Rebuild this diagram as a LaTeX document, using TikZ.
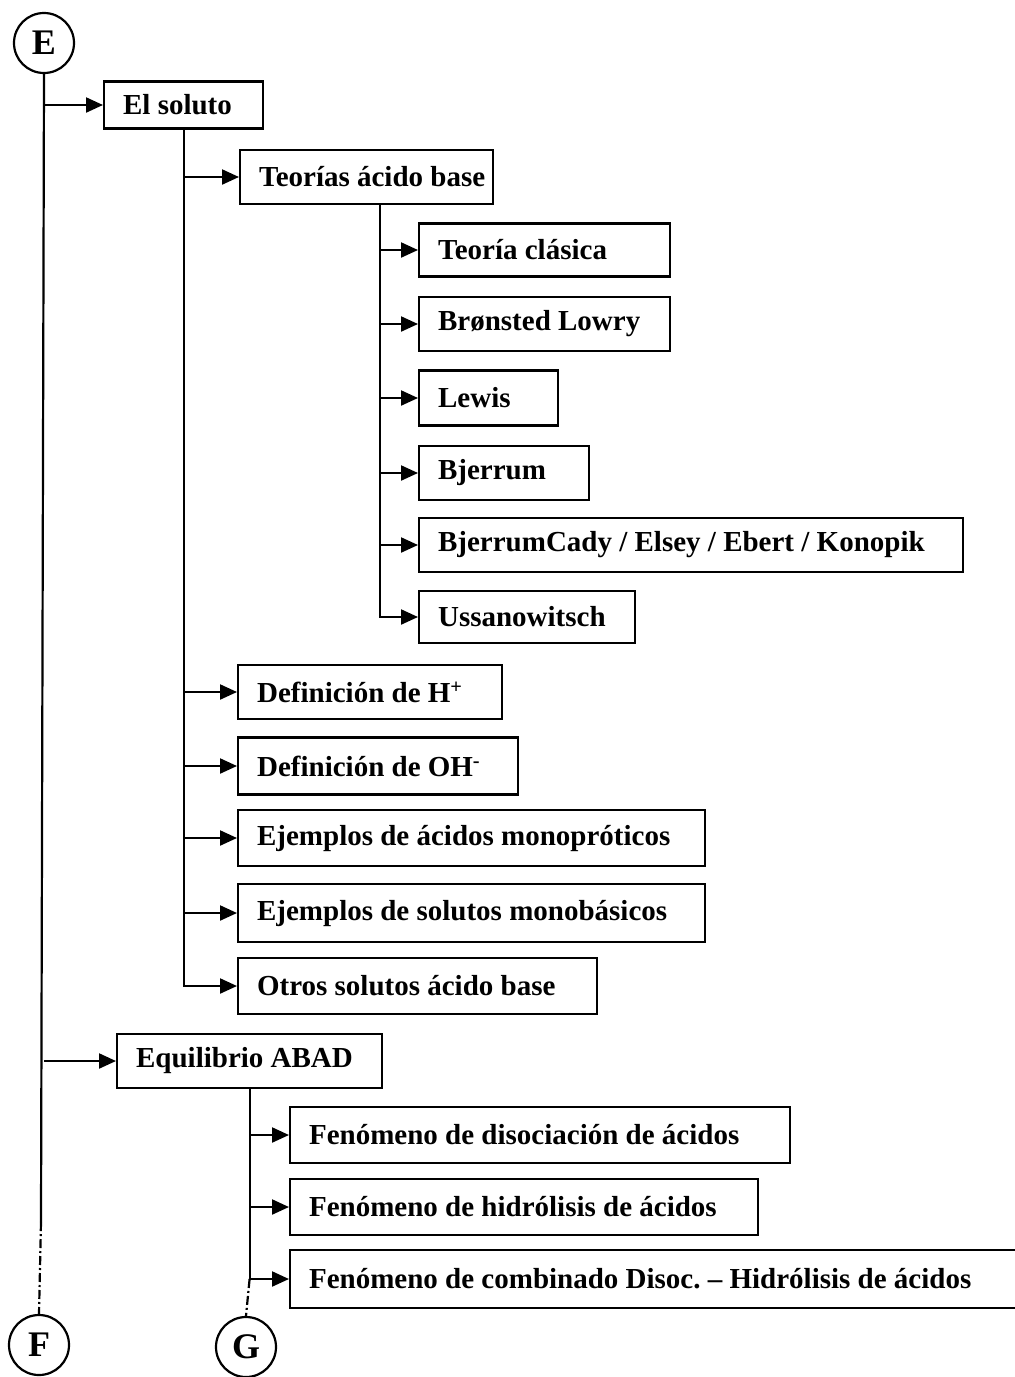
\documentclass[tikz,border=0pt]{standalone}
\usepackage{fontspec}
\setmainfont{Liberation Serif}
\usetikzlibrary{arrows.meta,calc}
\frenchspacing

\tikzset{
  box/.style={draw, line width=2.2pt, anchor=west,
    minimum height=#1, inner xsep=19pt, inner ysep=0pt,
    font=\fontsize{29}{32}\selectfont\bfseries},
  box/.default=54pt,
  letter/.style={draw, circle, line width=2.2pt, minimum size=60pt, inner sep=0pt,
    font=\fontsize{36}{38}\selectfont\bfseries},
  link/.style={line width=2.2pt},
  branch/.style={line width=2.2pt, -{Triangle[length=17pt,width=15pt]}},
  dashdot/.style={line width=2.2pt, dash pattern=on 9pt off 3pt on 2pt off 3pt}
}

% box body: a left-aligned line of text in a box of the given outer width
\newcommand{\bx}[2]{\makebox[\dimexpr #1pt-38pt\relax][l]{#2}}

\begin{document}
\begin{tikzpicture}[x=1pt,y=-1pt]
\useasboundingbox (0,0) rectangle (1015,1377);

% connector circles
\node[letter] (E) at (44,43) {E};
\node[letter] (F) at (39,1345) {F};
\node[letter] (G) at (246,1347) {G};

% first level
\node[box=47pt] (soluto) at (103,105) {\bx{159}{El soluto}};
\node[box] (abad) at (116,1061) {\bx{265}{Equilibrio ABAD}};

% solute topics
\node[box] (teorias) at (239,177) {\bx{253}{Teorías ácido base}};
\node[box] (hmas) at (237,692) {\bx{264}{Definición de H\textsuperscript{+}}};
\node[box=57pt] (ohmenos) at (237,766) {\bx{280}{Definición de OH\textsuperscript{-}}};
\node[box=56pt] (monoprot) at (237,838) {\bx{467}{Ejemplos de ácidos monopróticos}};
\node[box=58pt] (monobas) at (237,913) {\bx{467}{Ejemplos de solutos monobásicos}};
\node[box=56pt] (otros) at (237,986) {\bx{359}{Otros solutos ácido base}};

% acid-base theories
\node[box=53pt] (clasica) at (418,250) {\bx{251}{Teoría clásica}};
\node[box] (bronsted) at (418,324) {\bx{251}{Brønsted Lowry}};
\node[box=55pt] (lewis) at (418,398) {\bx{139}{Lewis}};
\node[box] (bjerrum) at (418,473) {\bx{170}{Bjerrum}};
\node[box] (cady) at (418,545) {\bx{544}{BjerrumCady / Elsey / Ebert / Konopik}};
\node[box=52pt] (ussa) at (418,617) {\bx{216}{Ussanowitsch}};

% equilibrium phenomena
\node[box=56pt] (disoc) at (289,1135) {\bx{500}{Fenómeno de disociación de ácidos}};
\node[box=56pt] (hidro) at (289,1207) {\bx{468}{Fenómeno de hidrólisis de ácidos}};
\node[box=58pt] (combi) at (289,1279) {\bx{735}{Fenómeno de combinado Disoc. – Hidrólisis de ácidos}};

% main spine E -> F
\coordinate (mainend) at (41,1222);
\draw[link] (E.south) -- (mainend);
\draw[dashdot] (mainend) -- (F.north);
\draw[branch] (E.south |- soluto.west) -- (soluto.west);
\draw[branch] (E.south |- abad.west) -- (abad.west);

% solute spine
\draw[link] (soluto.south) |- ($(otros.west)+(-3,0)$);
\draw[branch] ($(otros.west)+(-4,0)$) -- (otros.west);
\foreach \n in {teorias,hmas,ohmenos,monoprot,monobas}
  \draw[branch] (soluto.south |- \n.west) -- (\n.west);

% theories spine
\coordinate (tspine) at ($(teorias.south west)+(141,0)$);
\draw[link] (tspine) |- ($(ussa.west)+(-3,0)$);
\draw[branch] ($(ussa.west)+(-4,0)$) -- (ussa.west);
\foreach \n in {clasica,bronsted,lewis,bjerrum,cady}
  \draw[branch] (tspine |- \n.west) -- (\n.west);

% equilibrium spine
\coordinate (abadend) at (abad.south |- combi.west);
\draw[link] (abad.south) -- (abadend);
\draw[dashdot] (abadend) -- (G.north);
\foreach \n in {disoc,hidro,combi}
  \draw[branch] (abad.south |- \n.west) -- (\n.west);
\end{tikzpicture}
\end{document}
